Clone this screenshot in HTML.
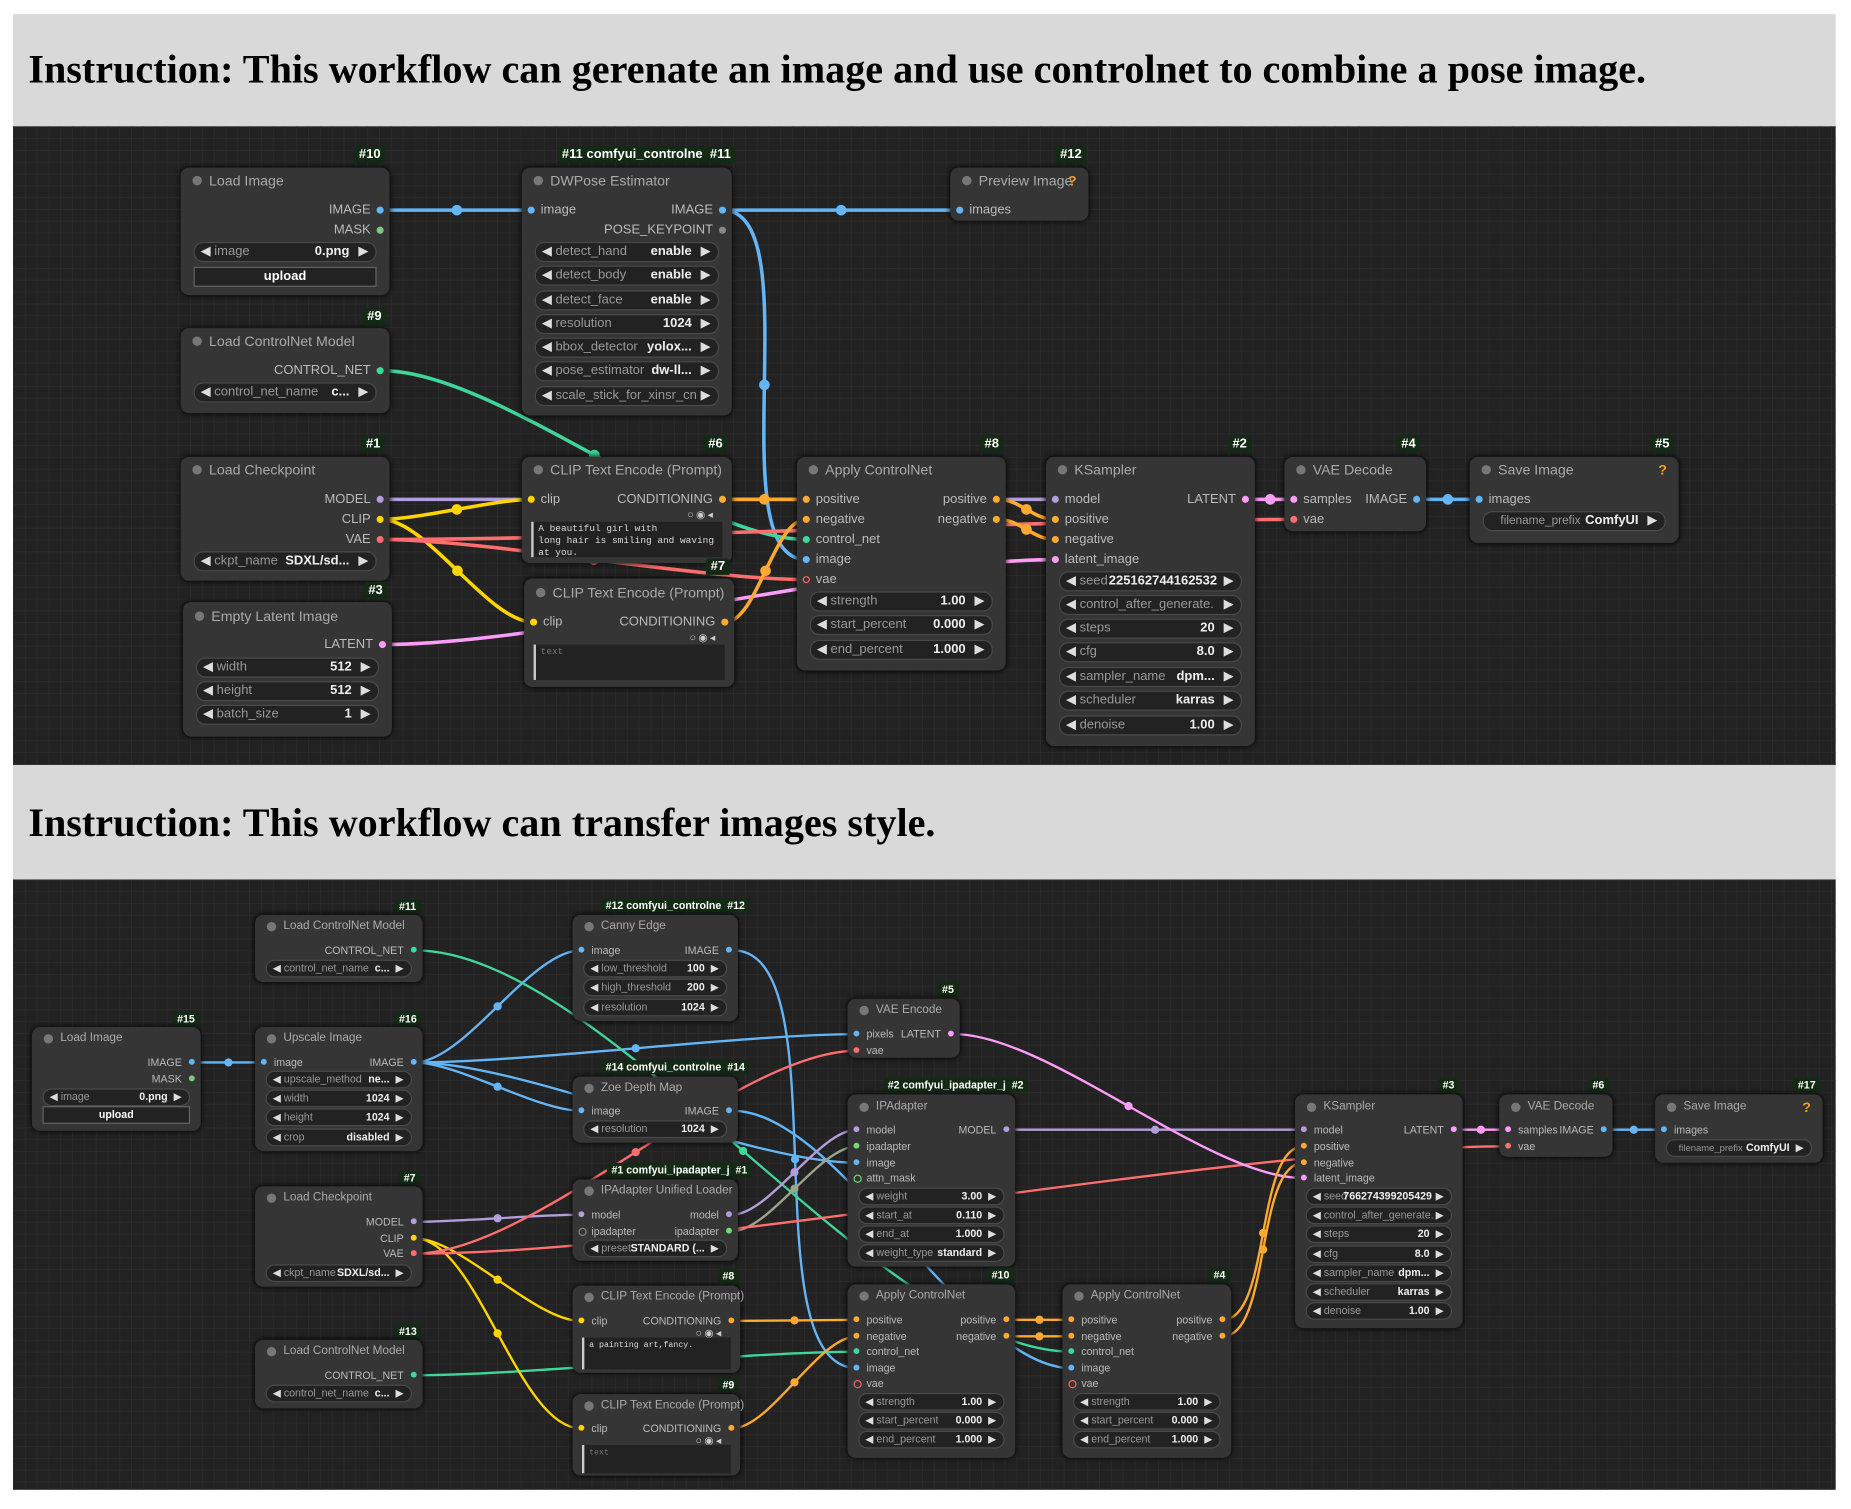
<!DOCTYPE html>
<html><head><meta charset="utf-8">
<style>
html,body{margin:0;padding:0;background:#fff;width:1851px;height:1508px;overflow:hidden}
#wrap{position:absolute;left:0;top:0;width:1568px;height:1278px;transform:scale(1.1805);transform-origin:0 0;font-family:"Liberation Sans",sans-serif}
.hd{position:absolute;left:11px;width:1544px;background:#d9d9d9;font-family:"Liberation Serif",serif;font-weight:bold;font-size:34px;color:#000;box-sizing:border-box;padding-left:13px;white-space:nowrap}
.pn{position:absolute;left:11px;width:1544px;background-color:#222;background-image:linear-gradient(#2a2a2a 1px,transparent 1px),linear-gradient(90deg,#2a2a2a 1px,transparent 1px);background-size:10px 10px;overflow:hidden}
svg{position:absolute;left:0;top:0}
.n{position:absolute;background:#353535;border-radius:7px;box-shadow:0 0 5px #000;color:#bbb;font-size:11px}
.t{position:absolute;left:24px;height:14px;line-height:14px;font-size:12px;color:#aaa;white-space:nowrap}
.t:before{content:"";position:absolute;left:-14px;top:3px;width:8px;height:8px;border-radius:50%;background:#777}
.q{position:absolute;right:10px;color:#f0a020;font-weight:bold;font-size:12px}
.o,.i{position:absolute;height:14px;line-height:14px;white-space:nowrap}
.o{right:5px;padding-right:11px}
.i{left:5px;padding-left:11px}
.o i,.i i{position:absolute;top:4px;width:6px;height:6px;border-radius:50%}
.o i{right:0}.i i{left:0}
i.h{background:transparent!important;border:1.5px solid #f66;width:4px;height:4px;top:3.5px}
.w{position:absolute;left:11px;right:11px;height:15px;line-height:15px;border-radius:8px;background:#222;border:1px solid #4a4a4a;color:#999;font-size:11px;white-space:nowrap;overflow:hidden}
.w span{position:absolute;left:5px}
.w span:before{content:"◀ ";color:#ddd}
.w span.np:before{content:""}
.w b{position:absolute;right:22px;color:#eee;font-weight:600}
.w:after{content:"▶";position:absolute;right:6px;color:#ddd}
.up{position:absolute;left:11px;right:11px;height:15px;line-height:15px;border:1px solid #666;background:#222;color:#fff;font-weight:bold;text-align:center}
.ic{position:absolute;right:14px;color:#ccc;font-size:9px;letter-spacing:2px}
.ta{position:absolute;left:8px;right:8px;background:#222;font-family:"Liberation Mono",monospace;font-size:8px;color:#ddd;line-height:10px;padding:2px 4px;box-sizing:border-box;border-left:2px solid #ccc}
.b{position:absolute;background:#132a15;color:#fff;font-weight:bold;font-size:11px;padding:1px 4px;border-radius:3px 3px 0 0;white-space:nowrap}
.s{font-size:9px}
.s .t{font-size:10px}
.s .w{height:13px;line-height:13px;font-size:9px;left:9px;right:9px}
.s .w b{right:18px}
.s .o i,.s .i i{width:5px;height:5px}
.s .up{height:13px;line-height:13px;font-size:9px;left:9px;right:9px}
.b.s2{font-size:9px}
</style></head><body>
<div id="wrap">
<div class="hd" style="top:12px;height:95px;line-height:96px">Instruction: This workflow can gerenate an image and use controlnet to combine a pose image.</div>
<div class="pn" style="top:107px;height:541px"></div>
<div class="hd" style="top:648px;height:97px;line-height:100px">Instruction: This workflow can transfer images style.</div>
<div class="pn" style="top:745px;height:517px"></div>
<svg id="wires" width="1568" height="1278"></svg>

<!-- ===== PANEL 1 ===== -->
<div class="b" style="left:300px;top:124px">#10</div>
<div class="n" style="left:153px;top:142px;width:177px;height:108px">
<div class="t" style="top:4px">Load Image</div>
<div class="o" style="top:29px">IMAGE<i style="background:#64b5f6"></i></div>
<div class="o" style="top:46px">MASK<i style="background:#81c784"></i></div>
<div class="w" style="top:63px"><span>image</span><b>0.png</b></div>
<div class="up" style="top:84px">upload</div>
</div>
<div class="b" style="left:307px;top:261px">#9</div>
<div class="n" style="left:153px;top:278px;width:177px;height:72px">
<div class="t" style="top:4px">Load ControlNet Model</div>
<div class="o" style="top:29px">CONTROL_NET<i style="background:#3fd69a"></i></div>
<div class="w" style="top:46px"><span>control_net_name</span><b>c...</b></div>
</div>
<div class="b" style="left:306px;top:369px">#1</div>
<div class="n" style="left:153px;top:387px;width:177px;height:105px">
<div class="t" style="top:4px">Load Checkpoint</div>
<div class="o" style="top:29px">MODEL<i style="background:#b39ddb"></i></div>
<div class="o" style="top:46px">CLIP<i style="background:#ffd500"></i></div>
<div class="o" style="top:63px">VAE<i style="background:#ff6e6e"></i></div>
<div class="w" style="top:80px"><span>ckpt_name</span><b>SDXL/sd...</b></div>
</div>
<div class="b" style="left:308px;top:493px">#3</div>
<div class="n" style="left:155px;top:510px;width:177px;height:114px">
<div class="t" style="top:5px">Empty Latent Image</div>
<div class="o" style="top:29px">LATENT<i style="background:#ff9cf9"></i></div>
<div class="w" style="top:47px"><span>width</span><b>512</b></div>
<div class="w" style="top:67px"><span>height</span><b>512</b></div>
<div class="w" style="top:87px"><span>batch_size</span><b>1</b></div>
</div>
<div class="b" style="left:472px;top:124px">#11 comfyui_controlne&nbsp; #11</div>
<div class="n" style="left:442px;top:142px;width:178px;height:210px">
<div class="t" style="top:4px">DWPose Estimator</div>
<div class="i" style="top:29px"><i style="background:#64b5f6"></i>image</div>
<div class="o" style="top:29px">IMAGE<i style="background:#64b5f6"></i></div>
<div class="o" style="top:46px">POSE_KEYPOINT<i style="background:#888"></i></div>
<div class="w" style="top:63px"><span>detect_hand</span><b>enable</b></div>
<div class="w" style="top:83px"><span>detect_body</span><b>enable</b></div>
<div class="w" style="top:104px"><span>detect_face</span><b>enable</b></div>
<div class="w" style="top:124px"><span>resolution</span><b>1024</b></div>
<div class="w" style="top:144px"><span>bbox_detector</span><b>yolox...</b></div>
<div class="w" style="top:164px"><span>pose_estimator</span><b>dw-ll...</b></div>
<div class="w" style="top:185px"><span>scale_stick_for_xinsr_cn</span></div>
</div>
<div class="b" style="left:596px;top:369px">#6</div>
<div class="n" style="left:442px;top:387px;width:178px;height:90px">
<div class="t" style="top:4px">CLIP Text Encode (Prompt)</div>
<div class="i" style="top:29px"><i style="background:#ffd500"></i>clip</div>
<div class="o" style="top:29px">CONDITIONING<i style="background:#ffa931"></i></div>
<div class="ic" style="top:44px">○◉◂</div>
<div class="ta" style="top:55px;height:30px">A beautiful girl with<br>long hair is smiling and waving<br>at you.</div>
</div>
<div class="b" style="left:598px;top:473px">#7</div>
<div class="n" style="left:444px;top:490px;width:178px;height:92px">
<div class="t" style="top:5px">CLIP Text Encode (Prompt)</div>
<div class="i" style="top:30px"><i style="background:#ffd500"></i>clip</div>
<div class="o" style="top:30px">CONDITIONING<i style="background:#ffa931"></i></div>
<div class="ic" style="top:45px">○◉◂</div>
<div class="ta" style="top:56px;height:30px;color:#777">text</div>
</div>
<div class="b" style="left:830px;top:369px">#8</div>
<div class="n" style="left:675px;top:387px;width:177px;height:181px">
<div class="t" style="top:4px">Apply ControlNet</div>
<div class="i" style="top:29px"><i style="background:#ffa931"></i>positive</div>
<div class="o" style="top:29px">positive<i style="background:#ffa931"></i></div>
<div class="i" style="top:46px"><i style="background:#ffa931"></i>negative</div>
<div class="o" style="top:46px">negative<i style="background:#ffa931"></i></div>
<div class="i" style="top:63px"><i style="background:#3fd69a"></i>control_net</div>
<div class="i" style="top:80px"><i style="background:#64b5f6"></i>image</div>
<div class="i" style="top:97px"><i class="h"></i>vae</div>
<div class="w" style="top:114px"><span>strength</span><b>1.00</b></div>
<div class="w" style="top:134px"><span>start_percent</span><b>0.000</b></div>
<div class="w" style="top:155px"><span>end_percent</span><b>1.000</b></div>
</div>
<div class="b" style="left:894px;top:124px">#12</div>
<div class="n" style="left:805px;top:142px;width:117px;height:45px">
<div class="t" style="top:4px">Preview Image</div><div class="q" style="top:4px">?</div>
<div class="i" style="top:29px"><i style="background:#64b5f6"></i>images</div>
</div>
<div class="b" style="left:1040px;top:369px">#2</div>
<div class="n" style="left:886px;top:387px;width:177px;height:245px">
<div class="t" style="top:4px">KSampler</div>
<div class="i" style="top:29px"><i style="background:#b39ddb"></i>model</div>
<div class="o" style="top:29px">LATENT<i style="background:#ff9cf9"></i></div>
<div class="i" style="top:46px"><i style="background:#ffa931"></i>positive</div>
<div class="i" style="top:63px"><i style="background:#ffa931"></i>negative</div>
<div class="i" style="top:80px"><i style="background:#ff9cf9"></i>latent_image</div>
<div class="w" style="top:97px"><span>seed</span><b style="right:20px">225162744162532</b></div>
<div class="w" style="top:117px"><span>control_after_generate.</span></div>
<div class="w" style="top:137px"><span>steps</span><b>20</b></div>
<div class="w" style="top:157px"><span>cfg</span><b>8.0</b></div>
<div class="w" style="top:178px"><span>sampler_name</span><b>dpm...</b></div>
<div class="w" style="top:198px"><span>scheduler</span><b>karras</b></div>
<div class="w" style="top:219px"><span>denoise</span><b>1.00</b></div>
</div>
<div class="b" style="left:1183px;top:369px">#4</div>
<div class="n" style="left:1088px;top:387px;width:120px;height:63px">
<div class="t" style="top:4px">VAE Decode</div>
<div class="i" style="top:29px"><i style="background:#ff9cf9"></i>samples</div>
<div class="o" style="top:29px">IMAGE<i style="background:#64b5f6"></i></div>
<div class="i" style="top:46px"><i style="background:#ff6e6e"></i>vae</div>
</div>
<div class="b" style="left:1398px;top:369px">#5</div>
<div class="n" style="left:1245px;top:387px;width:177px;height:73px">
<div class="t" style="top:4px">Save Image</div><div class="q" style="top:4px">?</div>
<div class="i" style="top:29px"><i style="background:#64b5f6"></i>images</div>
<div class="w" style="top:46px"><span class="np" style="left:14px;font-size:10px">filename_prefix</span><b>ComfyUI</b></div>
</div>

<!-- ===== PANEL 2 ===== -->
<div class="b s2" style="left:334px;top:762px">#11</div>
<div class="n s" style="left:216px;top:775px;width:142px;height:57px">
<div class="t" style="top:3px">Load ControlNet Model</div>
<div class="o" style="top:23px">CONTROL_NET<i style="background:#3fd69a"></i></div>
<div class="w" style="top:38px"><span>control_net_name</span><b>c...</b></div>
</div>
<div class="b s2" style="left:146px;top:857px">#15</div>
<div class="n s" style="left:27px;top:870px;width:143px;height:88px">
<div class="t" style="top:3px">Load Image</div>
<div class="o" style="top:23px">IMAGE<i style="background:#64b5f6"></i></div>
<div class="o" style="top:37px">MASK<i style="background:#81c784"></i></div>
<div class="w" style="top:52px"><span>image</span><b>0.png</b></div>
<div class="up" style="top:67px">upload</div>
</div>
<div class="b s2" style="left:334px;top:857px">#16</div>
<div class="n s" style="left:216px;top:870px;width:142px;height:105px">
<div class="t" style="top:3px">Upscale Image</div>
<div class="i" style="top:23px"><i style="background:#64b5f6"></i>image</div>
<div class="o" style="top:23px">IMAGE<i style="background:#64b5f6"></i></div>
<div class="w" style="top:37px"><span>upscale_method</span><b>ne...</b></div>
<div class="w" style="top:53px"><span>width</span><b>1024</b></div>
<div class="w" style="top:69px"><span>height</span><b>1024</b></div>
<div class="w" style="top:86px"><span>crop</span><b>disabled</b></div>
</div>
<div class="b s2" style="left:338px;top:992px">#7</div>
<div class="n s" style="left:216px;top:1005px;width:142px;height:85px">
<div class="t" style="top:3px">Load Checkpoint</div>
<div class="o" style="top:23px">MODEL<i style="background:#b39ddb"></i></div>
<div class="o" style="top:37px">CLIP<i style="background:#ffd500"></i></div>
<div class="o" style="top:50px">VAE<i style="background:#ff6e6e"></i></div>
<div class="w" style="top:66px"><span>ckpt_name</span><b>SDXL/sd...</b></div>
</div>
<div class="b s2" style="left:334px;top:1122px">#13</div>
<div class="n s" style="left:216px;top:1135px;width:142px;height:58px">
<div class="t" style="top:3px">Load ControlNet Model</div>
<div class="o" style="top:23px">CONTROL_NET<i style="background:#3fd69a"></i></div>
<div class="w" style="top:38px"><span>control_net_name</span><b>c...</b></div>
</div>
<div class="b s2" style="left:509px;top:761px">#12 comfyui_controlne&nbsp; #12</div>
<div class="n s" style="left:485px;top:775px;width:140px;height:90px">
<div class="t" style="top:3px">Canny Edge</div>
<div class="i" style="top:23px"><i style="background:#64b5f6"></i>image</div>
<div class="o" style="top:23px">IMAGE<i style="background:#64b5f6"></i></div>
<div class="w" style="top:38px"><span>low_threshold</span><b>100</b></div>
<div class="w" style="top:54px"><span>high_threshold</span><b>200</b></div>
<div class="w" style="top:71px"><span>resolution</span><b>1024</b></div>
</div>
<div class="b s2" style="left:509px;top:898px">#14 comfyui_controlne&nbsp; #14</div>
<div class="n s" style="left:485px;top:912px;width:140px;height:56px">
<div class="t" style="top:3px">Zoe Depth Map</div>
<div class="i" style="top:22px"><i style="background:#64b5f6"></i>image</div>
<div class="o" style="top:22px">IMAGE<i style="background:#64b5f6"></i></div>
<div class="w" style="top:37px"><span>resolution</span><b>1024</b></div>
</div>
<div class="b s2" style="left:514px;top:985px">#1 comfyui_ipadapter_j&nbsp; #1</div>
<div class="n s" style="left:485px;top:999px;width:140px;height:69px">
<div class="t" style="top:3px">IPAdapter Unified Loader</div>
<div class="i" style="top:23px"><i style="background:#b39ddb"></i>model</div>
<div class="o" style="top:23px">model<i style="background:#b39ddb"></i></div>
<div class="i" style="top:37px"><i class="h" style="border-color:#888"></i>ipadapter</div>
<div class="o" style="top:37px">ipadapter<i style="background:#6fdc6f"></i></div>
<div class="w" style="top:51px"><span>preset</span><b>STANDARD (...</b></div>
</div>
<div class="b s2" style="left:608px;top:1075px">#8</div>
<div class="n s" style="left:485px;top:1089px;width:142px;height:74px">
<div class="t" style="top:3px">CLIP Text Encode (Prompt)</div>
<div class="i" style="top:23px"><i style="background:#ffd500"></i>clip</div>
<div class="o" style="top:23px">CONDITIONING<i style="background:#ffa931"></i></div>
<div class="ic" style="top:35px">○◉◂</div>
<div class="ta" style="top:44px;height:27px;font-size:7px">a painting art,fancy.</div>
</div>
<div class="b s2" style="left:608px;top:1167px">#9</div>
<div class="n s" style="left:485px;top:1181px;width:142px;height:69px">
<div class="t" style="top:3px">CLIP Text Encode (Prompt)</div>
<div class="i" style="top:22px"><i style="background:#ffd500"></i>clip</div>
<div class="o" style="top:22px">CONDITIONING<i style="background:#ffa931"></i></div>
<div class="ic" style="top:34px">○◉◂</div>
<div class="ta" style="top:43px;height:24px;font-size:7px;color:#777">text</div>
</div>
<div class="b s2" style="left:794px;top:832px">#5</div>
<div class="n s" style="left:718px;top:846px;width:95px;height:50px">
<div class="t" style="top:3px">VAE Encode</div>
<div class="i" style="top:23px"><i style="background:#64b5f6"></i>pixels</div>
<div class="o" style="top:23px">LATENT<i style="background:#ff9cf9"></i></div>
<div class="i" style="top:37px"><i style="background:#ff6e6e"></i>vae</div>
</div>
<div class="b s2" style="left:748px;top:913px">#2 comfyui_ipadapter_j&nbsp; #2</div>
<div class="n s" style="left:718px;top:927px;width:142px;height:146px">
<div class="t" style="top:4px">IPAdapter</div>
<div class="i" style="top:23px"><i style="background:#b39ddb"></i>model</div>
<div class="o" style="top:23px">MODEL<i style="background:#b39ddb"></i></div>
<div class="i" style="top:37px"><i style="background:#6fdc6f"></i>ipadapter</div>
<div class="i" style="top:51px"><i style="background:#64b5f6"></i>image</div>
<div class="i" style="top:64px"><i class="h" style="border-color:#6fdc6f"></i>attn_mask</div>
<div class="w" style="top:79px"><span>weight</span><b>3.00</b></div>
<div class="w" style="top:95px"><span>start_at</span><b>0.110</b></div>
<div class="w" style="top:111px"><span>end_at</span><b>1.000</b></div>
<div class="w" style="top:127px"><span>weight_type</span><b>standard</b></div>
</div>
<div class="b s2" style="left:836px;top:1074px">#10</div>
<div class="n s" style="left:718px;top:1088px;width:142px;height:147px">
<div class="t" style="top:3px">Apply ControlNet</div>
<div class="i" style="top:23px"><i style="background:#ffa931"></i>positive</div>
<div class="o" style="top:23px">positive<i style="background:#ffa931"></i></div>
<div class="i" style="top:37px"><i style="background:#ffa931"></i>negative</div>
<div class="o" style="top:37px">negative<i style="background:#ffa931"></i></div>
<div class="i" style="top:50px"><i style="background:#3fd69a"></i>control_net</div>
<div class="i" style="top:64px"><i style="background:#64b5f6"></i>image</div>
<div class="i" style="top:77px"><i class="h"></i>vae</div>
<div class="w" style="top:92px"><span>strength</span><b>1.00</b></div>
<div class="w" style="top:108px"><span>start_percent</span><b>0.000</b></div>
<div class="w" style="top:124px"><span>end_percent</span><b>1.000</b></div>
</div>
<div class="b s2" style="left:1024px;top:1074px">#4</div>
<div class="n s" style="left:900px;top:1088px;width:143px;height:147px">
<div class="t" style="top:3px">Apply ControlNet</div>
<div class="i" style="top:23px"><i style="background:#ffa931"></i>positive</div>
<div class="o" style="top:23px">positive<i style="background:#ffa931"></i></div>
<div class="i" style="top:37px"><i style="background:#ffa931"></i>negative</div>
<div class="o" style="top:37px">negative<i style="background:#ffa931"></i></div>
<div class="i" style="top:50px"><i style="background:#3fd69a"></i>control_net</div>
<div class="i" style="top:64px"><i style="background:#64b5f6"></i>image</div>
<div class="i" style="top:77px"><i class="h"></i>vae</div>
<div class="w" style="top:92px"><span>strength</span><b>1.00</b></div>
<div class="w" style="top:108px"><span>start_percent</span><b>0.000</b></div>
<div class="w" style="top:124px"><span>end_percent</span><b>1.000</b></div>
</div>
<div class="b s2" style="left:1218px;top:913px">#3</div>
<div class="n s" style="left:1097px;top:927px;width:142px;height:198px">
<div class="t" style="top:4px">KSampler</div>
<div class="i" style="top:23px"><i style="background:#b39ddb"></i>model</div>
<div class="o" style="top:23px">LATENT<i style="background:#ff9cf9"></i></div>
<div class="i" style="top:37px"><i style="background:#ffa931"></i>positive</div>
<div class="i" style="top:51px"><i style="background:#ffa931"></i>negative</div>
<div class="i" style="top:64px"><i style="background:#ff9cf9"></i>latent_image</div>
<div class="w" style="top:79px"><span>seed</span><b style="right:16px">766274399205429</b></div>
<div class="w" style="top:95px"><span>control_after_generate.</span></div>
<div class="w" style="top:111px"><span>steps</span><b>20</b></div>
<div class="w" style="top:128px"><span>cfg</span><b>8.0</b></div>
<div class="w" style="top:144px"><span>sampler_name</span><b>dpm...</b></div>
<div class="w" style="top:160px"><span>scheduler</span><b>karras</b></div>
<div class="w" style="top:176px"><span>denoise</span><b>1.00</b></div>
</div>
<div class="b s2" style="left:1345px;top:913px">#6</div>
<div class="n s" style="left:1270px;top:927px;width:96px;height:53px">
<div class="t" style="top:4px">VAE Decode</div>
<div class="i" style="top:23px"><i style="background:#ff9cf9"></i>samples</div>
<div class="o" style="top:23px">IMAGE<i style="background:#64b5f6"></i></div>
<div class="i" style="top:37px"><i style="background:#ff6e6e"></i>vae</div>
</div>
<div class="b s2" style="left:1519px;top:913px">#17</div>
<div class="n s" style="left:1402px;top:927px;width:142px;height:58px">
<div class="t" style="top:4px">Save Image</div><div class="q" style="top:4px">?</div>
<div class="i" style="top:23px"><i style="background:#64b5f6"></i>images</div>
<div class="w" style="top:38px"><span class="np" style="left:10px;font-size:8px">filename_prefix</span><b>ComfyUI</b></div>
</div>
</div>
<script>
var B='#64b5f6',G='#3fd69a',M='#b39ddb',Y='#ffd500',R='#ff6e6e',P='#ff9cf9',O='#ffa931',GR='#9aa58a';
var W=[
[323,178,451,178,B,3],[612,178,813,178,B,3],[612,178,683,474,B,3],[324,314,683,457,G,3],
[323,423,894,423,M,3],[323,440,451,423,Y,3],[323,440,452,527,Y,3],[323,457,683,491,R,3],[323,457,1096,440,R,3],
[325,546,894,474,P,3],[612,423,683,423,O,3],[614,527,683,440,O,3],[845,423,894,440,O,3],[845,440,894,457,O,3],
[1056,423,1096,423,P,3],[1200,423,1253,423,B,3],
[163,900,224,900,B,2],[351,900,492,805,B,2],[351,900,492,941,B,2],[351,900,726,876,B,2],[351,900,726,985,B,2],
[621,805,726,1159,B,2],[621,941,908,1159,B,2],[351,805,908,1145,G,2],[351,1165,726,1145,G,2],
[620,1029,726,957,M,2],[620,1043,726,971,GR,2],[351,1035,492,1029,M,2],[351,1049,492,1119,Y,2],[351,1049,492,1210,Y,2],
[351,1062,726,890,R,2],[351,1062,1277,971,R,2],[853,957,1104,957,M,2],[808,876,1104,998,P,2],
[620,1119,726,1118,O,2],[620,1210,726,1132,O,2],[853,1118,908,1118,O,2],[853,1132,908,1132,O,2],
[1036,1118,1104,971,O,2],[1036,1132,1104,985,O,2],[1232,957,1277,957,P,2],[1359,957,1409,957,B,2]];
var s='';
W.forEach(function(w){var x1=w[0],y1=w[1],x2=w[2],y2=w[3],d=Math.max(20,Math.hypot(x2-x1,y2-y1)*0.25);
var c1x=x1+d,c2x=x2-d;
s+='<path d="M'+x1+' '+y1+' C'+c1x+' '+y1+' '+c2x+' '+y2+' '+x2+' '+y2+'" stroke="'+w[4]+'" stroke-width="'+w[5]+'" fill="none"/>';
var mx=0.125*x1+0.375*c1x+0.375*c2x+0.125*x2,my=0.5*y1+0.5*y2;
s+='<circle cx="'+mx+'" cy="'+my+'" r="'+(w[5]+1.5)+'" fill="'+w[4]+'"/>';});
document.getElementById('wires').innerHTML=s;
</script>
</body></html>
